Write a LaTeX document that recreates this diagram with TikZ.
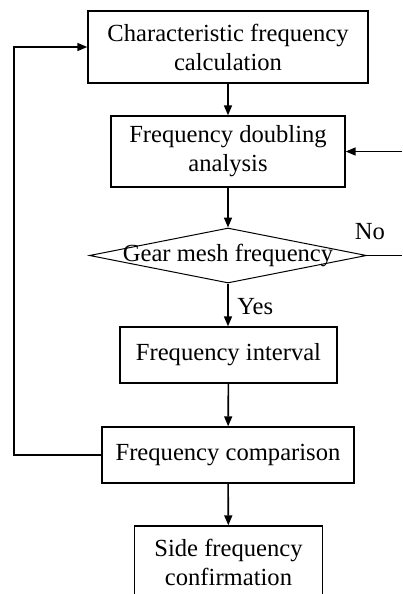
\documentclass[tikz,border=0pt]{standalone}
\usepackage{fontspec}
\setmainfont{Liberation Serif}
\usetikzlibrary{shapes.geometric,arrows.meta}

\begin{document}
\begin{tikzpicture}[x=0.5pt,y=-0.5pt]
		\tikzstyle{every node}=[font=\fontsize{12.3}{14.5}\selectfont]
		\tikzstyle{procbox}=[draw, line width=0.7pt, inner sep=0pt, align=center]
		\tikzstyle{decision}=[draw, diamond, line width=0.5pt, inner sep=0pt, minimum width=138.5pt, minimum height=27.5pt]
		\tikzstyle{flow}=[line width=0.8pt, -{Triangle[length=5pt,width=4pt]}]
		\useasboundingbox (0,0) rectangle (402,594);
		\clip (0,0) rectangle (402,594);
		% boxes
		\node [procbox, minimum width=140pt, minimum height=36pt] (calc) at (228,47) {Characteristic frequency\\calculation};
		\node [procbox, minimum width=117pt, minimum height=35.5pt] (doubling) at (228,151.5) {Frequency doubling\\analysis};
		\node [decision] (gear) at (228,255.5) {};
		\node (gearlabel) at (gear.center) {Gear mesh frequency};
		\node [procbox, minimum width=108.5pt, minimum height=28pt] (interval) at (228.5,355) {Frequency interval};
		\node [procbox, minimum width=126pt, minimum height=28pt] (compare) at (228,455) {Frequency comparison};
		\node [procbox, minimum width=94pt, minimum height=36pt] (side) at (228.5,562) {Side frequency\\confirmation};
		% labels
		\node (no) at (370,232) {No};
		\node [anchor=west, inner sep=0pt] (yes) at (237,307) {Yes};
		% connectors
		\coordinate (noend) at (402,255.5);
		\coordinate (backin) at (402,151.5);
		\coordinate (loopbot) at (14,455);
		\coordinate (looptop) at (14,47);
		\draw [flow] (calc) -- (doubling);
		\draw [flow] (doubling) -- (gear.north);
		\draw [flow] (gear.south) -- (interval.north -| gear.south);
		\draw [flow] (interval) -- (compare);
		\draw [flow] (compare) -- (side);
		\draw [line width=0.8pt] (gear.east) -- (noend);
		\draw [flow] (backin) -- (doubling.east);
		\draw [flow] (compare.west) -- (loopbot) -- (looptop) -- (calc.west);
\end{tikzpicture}
\end{document}
